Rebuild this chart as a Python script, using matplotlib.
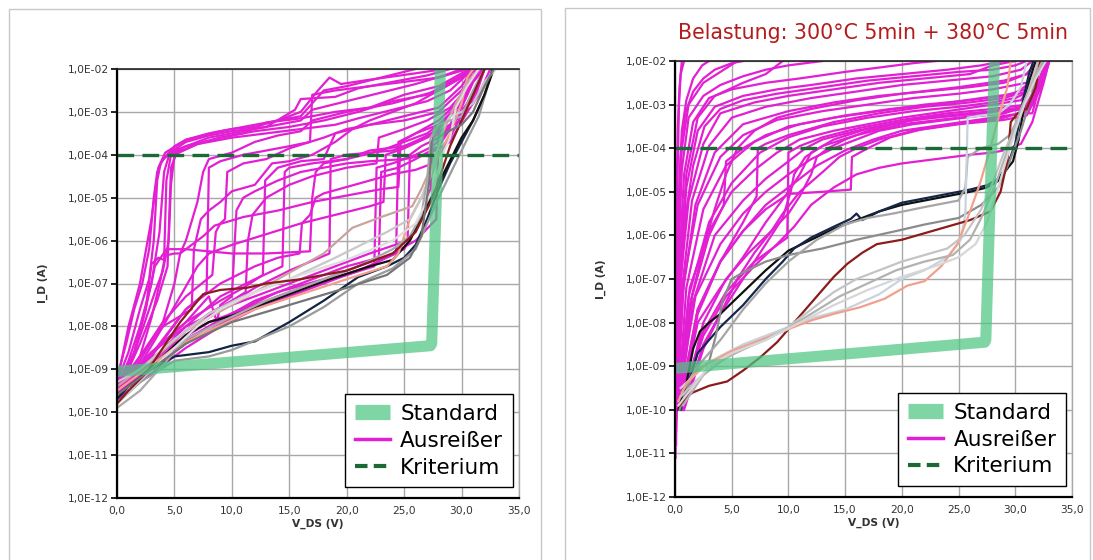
import numpy as np
import matplotlib
matplotlib.use("Agg")
import matplotlib.pyplot as plt
from matplotlib.ticker import FuncFormatter, FixedLocator
from matplotlib.lines import Line2D
from matplotlib.patches import Rectangle

# each curve: (V_DS in V, log10 of I_D in A)

left_outliers = [
    [(0, -9.3), (1, -8.6), (2, -7.6), (2.8, -6.9), (3.2, -6.0), (3.5, -4.6), (3.8, -4.2), (4.5, -3.95), (5, -3.8), (6, -3.65), (8, -3.5), (10, -3.4), (12, -3.35), (14, -3.2), (16, -3.0), (17.5, -2.5), (18.5, -2.2), (19.5, -2.35), (22, -2.25), (26, -2.1), (28.5, -2.0)],
    [(0, -9.4), (1, -8.8), (2, -8.0), (3, -7.0), (3.7, -5.8), (4.1, -4.4), (4.6, -3.95), (6, -3.7), (8, -3.55), (10, -3.45), (13, -3.35), (16, -3.2), (17, -2.95), (20, -2.75), (23, -2.55), (26, -2.35), (28.5, -2.15), (30, -2.0)],
    [(0, -9.5), (1.5, -8.6), (2.5, -7.6), (3, -6.55), (3.6, -6.4), (4.1, -6.45), (4.3, -4.6), (4.7, -4.0), (6, -3.8), (9, -3.6), (12, -3.45), (15, -3.35), (18, -3.2), (21, -3.0), (24, -2.75), (27, -2.6), (29, -2.3), (31, -2.0)],
    [(0, -9.6), (2, -8.4), (3.5, -7.4), (4.4, -6.6), (4.7, -4.3), (5.2, -3.95), (7, -3.75), (10, -3.6), (13, -3.5), (16, -3.4), (19, -3.3), (21, -3.15), (24, -2.95), (27, -2.75), (29, -2.5), (31, -2.0)],
    [(0, -9.3), (1, -8.0), (2, -7.0), (3, -5.5), (3.6, -4.3), (4.2, -3.95), (6, -3.65), (9, -3.45), (12, -3.3), (16, -3.1), (18, -2.5), (20, -2.4), (23, -2.2), (26, -2.0)],
    [(0, -9.5), (2, -8.7), (3, -7.8), (3.8, -6.9), (4.2, -6.35), (5, -6.3), (5.5, -6.3), (6, -6.0), (7, -5.1), (7.5, -4.4), (8, -4.1), (10, -3.95), (12, -3.7), (14, -3.55), (16, -3.45), (17, -3.2), (20, -3.0), (24, -2.8), (28, -2.5), (30, -2.2), (31.5, -2.0)],
    [(0, -9.6), (2, -9.0), (4, -8.3), (6, -7.6), (7.8, -7.2), (8, -4.3), (9, -4.15), (11, -4.0), (13, -3.9), (15, -3.8), (16.8, -3.7), (17, -2.6), (19, -2.5), (22, -2.4), (25, -2.3), (28, -2.2), (30.5, -2.0)],
    [(0, -9.4), (2, -8.7), (4, -7.9), (6, -7.3), (8.3, -6.8), (8.6, -5.8), (9, -5.6), (9.4, -5.5), (9.6, -4.4), (11, -4.2), (13, -4.1), (15, -3.85), (18, -3.6), (20, -3.4), (22, -3.3), (25, -3.2), (28, -3.0), (30, -2.5), (31.5, -2.0)],
    [(0, -9.5), (2, -8.9), (4, -8.4), (6, -7.9), (8, -7.3), (8.7, -7.9), (9, -7.5), (10, -7.3), (10.4, -5.3), (11, -5.0), (12, -4.85), (14, -4.6), (16, -4.4), (18, -4.3), (20, -4.2), (22, -4.15), (25, -4.1), (27, -4.0), (29, -3.7), (30.5, -3.0), (32, -2.0)],
    [(0, -9.7), (2, -9.1), (4, -8.6), (6, -8.1), (8, -7.7), (10, -7.4), (11.2, -7.2), (11.4, -6.0), (11.8, -5.4), (12.4, -5.2), (13, -5.0), (15, -4.7), (17, -4.5), (20, -4.3), (22.6, -4.2), (22.8, -3.6), (25, -3.4), (27, -3.2), (29, -2.9), (31, -2.3), (32, -2.0)],
    [(0, -9.4), (3, -8.6), (6, -7.9), (9, -7.4), (11, -7.1), (12.7, -6.8), (12.9, -4.6), (14, -4.3), (16, -4.15), (18, -4.1), (19, -3.5), (22, -3.3), (25, -3.1), (28, -2.9), (30, -2.4), (31, -2.0)],
    [(0, -9.6), (3, -8.8), (6, -8.0), (9, -7.3), (12, -6.9), (14.4, -6.6), (14.6, -4.4), (15, -4.3), (17, -4.2), (20, -4.1), (23, -3.9), (25, -3.7), (27, -3.5), (29, -3.1), (30.5, -2.5), (31.5, -2.0)],
    [(0, -9.5), (3, -8.7), (6, -7.6), (9, -7.0), (12, -6.6), (14, -6.4), (15.9, -6.3), (16.1, -5.6), (16.8, -5.4), (17.3, -5.0), (18, -4.9), (20, -4.75), (22, -4.6), (24, -4.45), (26, -4.35), (27.5, -4.2), (29, -3.6), (30.5, -2.8), (32, -2.0)],
    [(0, -9.6), (3, -8.9), (6, -8.2), (9, -7.6), (12, -7.1), (15, -6.7), (18.5, -6.3), (18.6, -4.1), (20, -4.0), (22, -3.95), (24, -3.9), (26, -3.7), (28, -3.4), (30, -2.8), (31.5, -2.0)],
    [(0, -9.5), (2, -8.8), (4, -7.9), (5, -7.0), (5.5, -6.3), (6.5, -6.1), (7.5, -5.9), (8.5, -5.65), (11, -5.45), (14, -5.3), (17, -5.1), (20, -4.95), (23, -4.8), (24.5, -4.75), (24.7, -3.7), (26, -3.5), (28, -3.2), (30, -2.7), (31, -2.0)],
    [(0, -9.6), (2, -8.9), (4, -8.0), (5.5, -7.3), (7, -6.6), (8, -6.3), (10, -6.1), (13, -5.85), (16, -5.6), (19, -5.4), (22, -5.2), (23.2, -5.1), (23.4, -4.0), (25, -3.85), (27, -3.6), (29, -3.3), (30.5, -2.6), (31.5, -2.0)],
    [(0, -9.3), (2, -8.9), (5, -8.4), (8, -7.9), (12, -7.5), (16, -7.1), (20, -6.8), (22.4, -6.6), (22.6, -4.3), (24, -4.2), (26, -4.0), (27.5, -3.8), (29, -3.4), (30.5, -2.8), (32, -2.0)],
    [(0, -9.7), (3, -9.1), (6, -8.5), (9, -8.0), (12, -7.6), (15, -7.3), (18, -7.0), (21, -6.7), (24.3, -6.3), (24.5, -3.7), (26, -3.5), (28, -3.3), (29.5, -2.9), (30.5, -2.3), (31.5, -2.0)],
    [(0, -9.5), (3, -8.6), (6, -8.0), (10, -7.5), (14, -7.1), (18, -6.7), (22, -6.3), (25.3, -6.0), (25.5, -4.0), (26.5, -3.8), (28, -3.6), (29.5, -3.2), (31, -2.6), (32, -2.0)],
    [(0, -9.6), (4, -8.7), (8, -8.0), (12, -7.4), (16, -7.0), (20, -6.6), (22.8, -6.4), (23, -4.4), (24.5, -4.3), (26, -4.1), (28, -3.8), (29, -3.4), (30, -2.9), (31, -2.3), (31.8, -2.0)],
    [(0, -9.4), (1.5, -8.6), (2.5, -7.6), (3.3, -6.6), (4.3, -6.2), (6, -6.2), (8, -6.25), (10, -6.3), (13, -6.3), (16.8, -6.25), (17, -5.0), (17.3, -4.4), (18, -4.2), (20, -4.1), (22, -3.9), (25, -3.8), (27.5, -3.5), (29, -3.1), (30.5, -2.4), (31.5, -2.0)],
    [(0, -9.5), (2, -8.7), (4, -8.0), (6.5, -7.6), (6.7, -6.2), (7.3, -5.5), (8, -5.3), (9, -5.1), (10, -4.85), (12, -4.7), (13.5, -4.2), (15, -4.15), (17, -4.0), (19, -3.7), (20.5, -3.4), (22, -3.2), (24, -3.0), (26, -2.8), (28, -2.5), (30, -2.2), (31, -2.0)],
    [(0, -9.4), (3, -8.9), (6, -8.3), (10, -7.7), (14, -7.2), (18, -6.9), (22, -6.5), (25, -6.2), (26.5, -5.5), (27.3, -4.8), (27.5, -3.6), (28.5, -3.4), (30, -3.2), (31.5, -2.6), (32.5, -2.0)],
    [(0, -9.5), (3, -9.0), (6, -8.4), (10, -7.8), (14, -7.3), (18, -6.95), (22, -6.6), (26, -6.0), (27.8, -5.5), (28, -3.5), (29, -3.3), (31, -2.8), (32, -2.0)],
    [(0, -9.2), (0.8, -8.4), (1.5, -7.6), (2.2, -7.0), (2.8, -6.2), (3.2, -5.0), (3.5, -4.4), (4, -4.1), (5, -3.9), (8, -3.6), (11, -3.45), (13, -3.35), (15.5, -2.95), (16, -2.7), (19, -2.65), (21, -2.45), (24, -2.3), (27, -2.15), (29, -2.0)],
    [(0, -9.6), (1, -9.0), (2.3, -8.0), (3.3, -7.2), (4, -6.7), (4.5, -6.0), (4.7, -4.7), (5, -4.0), (7, -3.75), (9, -3.6), (11, -3.5), (13, -3.25), (16, -3.15), (19, -3.0), (22, -2.9), (25, -2.6), (28, -2.4), (30, -2.1), (30.8, -2.0)],
]

left_regular = [
    [(0, -9.7), (1, -9.4), (3, -9.0), (5, -8.7), (8, -8.6), (10, -8.45), (12, -8.35), (15, -7.9), (18, -7.4), (21, -6.85), (23.5, -6.6), (25, -6.4), (26, -6.1), (27, -5.5), (28, -4.8), (29, -4.2), (30, -3.7), (31, -3.2), (32, -2.6), (32.7, -2.0)],
    [(0, -9.8), (2, -9.3), (5, -8.8), (8, -8.7), (10, -8.55), (15, -8.0), (18, -7.55), (21, -7.0), (24, -6.65), (26, -6.2), (28, -5.0), (30, -3.9), (31.5, -3.1), (32.5, -2.2), (32.8, -2.0)],
    [(0, -9.6), (2, -9.2), (4, -8.7), (6, -8.2), (8, -7.9), (10, -7.75), (14, -7.35), (18, -6.95), (22, -6.6), (24, -6.45), (25.5, -6.0), (27, -5.2), (28.5, -4.4), (30, -3.6), (31, -3.2), (32, -2.6), (32.8, -2.0)],
    [(0, -9.5), (2, -9.1), (5, -8.5), (8, -8.1), (12, -7.6), (16, -7.25), (20, -6.9), (23.5, -6.6), (24.5, -6.3), (25.5, -5.5), (26.5, -5.0), (27.5, -4.4), (28, -4.0), (29, -3.5), (30, -2.8), (30.5, -2.2), (31, -2.0)],
    [(0, -9.4), (3, -8.8), (6, -8.1), (10, -7.5), (14, -6.9), (18, -6.3), (20.5, -5.7), (23, -5.45), (25.7, -5.2), (26.5, -4.8), (27.5, -4.2), (28.5, -3.4), (29.5, -2.8), (30.5, -2.3), (31.5, -2.0)],
    [(0, -9.3), (2, -9.0), (5, -8.3), (8, -7.7), (11, -7.3), (15, -6.9), (19, -6.4), (23.5, -5.8), (25.5, -5.5), (26.5, -5.0), (27.5, -4.3), (28.5, -3.3), (29, -3.1), (30, -3.0), (31, -2.8), (32, -2.3), (33, -2.0)],
    [(0, -9.9), (2, -9.5), (4, -8.9), (6, -8.3), (9, -7.9), (13, -7.4), (17, -7.0), (21, -6.6), (24, -6.2), (25.5, -5.9), (26.5, -5.4), (27, -4.6), (27.3, -3.6), (28, -3.3), (30, -3.1), (31, -2.5), (32, -2.0)],
    [(0, -9.8), (1.5, -9.4), (3, -9.0), (5, -8.5), (7, -8.0), (9, -7.6), (12, -7.2), (16, -6.8), (20, -6.45), (24, -6.0), (26, -5.6), (27.5, -4.8), (28.5, -3.9), (29, -3.6), (29.5, -2.9), (30.5, -2.4), (31.5, -2.0)],
    [(0, -9.8), (1, -9.5), (2.5, -9.1), (4, -8.5), (5.5, -7.9), (7.5, -7.25), (9, -7.15), (11.3, -7.1), (13, -7.0), (16, -6.9), (20, -6.7), (24, -6.3), (26, -5.8), (27.5, -5.0), (29, -3.8), (30.5, -2.9), (32, -2.0)],
    [(0, -9.6), (3, -9.0), (6, -8.4), (10, -7.9), (15, -7.5), (20, -7.1), (23.5, -6.8), (25.5, -6.4), (26.5, -5.9), (27.2, -4.6), (27.4, -3.7), (28.5, -3.5), (30, -3.3), (31, -3.0), (32, -2.4), (32.8, -2.0)],
]
left_regular_colors = ["#122444", "#9a9a9a", "#111111", "#f0a08c", "#c9a3a0",
                       "#c8c8c8", "#a9a9a9", "#dddddd", "#8a1c1c", "#767676"]

right_outliers = [
    [(0.05, -9.8), (0.1, -7.0), (0.15, -5.0), (0.25, -3.5), (0.4, -2.6), (0.6, -2.0)],
    [(0.1, -10.2), (0.2, -7.0), (0.35, -5.0), (0.6, -3.6), (1.0, -2.9), (1.6, -2.4), (2.4, -2.1), (3, -2.0)],
    [(0.1, -10.0), (0.3, -6.0), (0.6, -4.0), (1.2, -3.0), (2.5, -2.5), (4, -2.25), (5.5, -2.0)],
    [(0.2, -9.9), (0.5, -6.5), (1, -4.6), (2, -3.3), (3.5, -2.8), (6, -2.5), (8, -2.3), (9.5, -2.0)],
    [(0.1, -9.6), (0.3, -6.5), (0.6, -4.5), (1.2, -3.3), (2.5, -2.8), (4, -2.55), (6, -2.35), (8, -2.2), (10, -2.1), (13, -2.0)],
    [(0.1, -9.9), (0.35, -6.8), (0.8, -4.6), (1.6, -3.4), (3, -2.85), (5, -2.65), (8, -2.5), (11, -2.4), (15, -2.25), (18, -2.15), (21, -2.05), (23, -2.0)],
    [(0.15, -10.0), (0.4, -7.2), (1, -4.9), (2, -3.6), (3.5, -3.05), (6, -2.8), (9, -2.65), (12, -2.55), (16, -2.4), (20, -2.3), (24, -2.2), (27, -2.1), (29, -2.0)],
    [(0.2, -9.7), (0.5, -7.0), (1.2, -5.2), (2.5, -3.9), (4, -3.2), (7, -2.95), (10, -2.8), (14, -2.65), (18, -2.5), (22, -2.4), (26, -2.3), (28, -2.1), (30, -2.0)],
    [(0.1, -10.5), (0.5, -7.5), (1.5, -5.2), (3, -3.95), (5, -3.3), (8, -3.05), (12, -2.85), (16, -2.7), (20, -2.55), (24, -2.45), (28, -2.35), (30.5, -2.2), (31.5, -2.0)],
    [(0.2, -10.0), (0.7, -7.3), (1.8, -5.3), (3.5, -4.1), (6, -3.45), (10, -3.15), (14, -2.95), (18, -2.8), (22, -2.7), (26, -2.6), (29, -2.5), (31, -2.3), (32, -2.0)],
    [(0.2, -9.5), (0.8, -7.0), (2, -5.3), (4, -4.2), (6, -3.7), (9, -3.35), (13, -3.15), (17, -3.0), (21, -2.85), (25, -2.75), (28, -2.65), (31, -2.5), (32.3, -2.0)],
    [(0.3, -9.8), (1, -7.2), (2.5, -5.4), (4.5, -4.4), (7, -3.85), (10, -3.5), (14, -3.3), (18, -3.15), (22, -3.0), (26, -2.9), (29, -2.8), (31.5, -2.6), (32.5, -2.0)],
    [(0.3, -10.0), (1.2, -7.4), (3, -5.7), (5, -4.8), (7.5, -4.1), (10, -3.75), (13, -3.5), (17, -3.3), (21, -3.15), (25, -3.05), (28, -2.95), (30, -2.85), (32, -2.6), (32.8, -2.0)],
    [(0.3, -9.7), (1.3, -7.2), (3, -5.9), (5, -5.0), (7, -4.5), (9, -4.1), (11, -3.8), (14, -3.6), (17, -3.45), (20, -3.3), (24, -3.15), (28, -3.0), (30.5, -2.9), (32, -2.3), (32.5, -2.0)],
    [(0.4, -10.0), (1.5, -7.6), (3.5, -6.0), (6, -5.2), (8, -4.7), (10, -4.3), (11.5, -4.0), (13, -3.8), (16, -3.6), (19, -3.45), (22, -3.3), (26, -3.2), (29, -3.15), (31, -3.1), (32.3, -2.5), (33, -2.0)],
    [(0.4, -9.6), (1.8, -7.4), (4, -6.2), (6, -5.5), (8, -5.0), (10, -4.6), (12, -4.25), (14, -4.0), (16, -3.8), (18, -3.6), (21, -3.45), (24, -3.35), (27, -3.25), (29, -3.2), (31, -3.0), (32, -2.5), (32.7, -2.0)],
    [(0.5, -10.0), (2, -7.8), (4, -6.6), (6, -5.9), (8, -5.3), (10, -4.9), (12.5, -4.4), (15, -4.05), (17.5, -3.8), (20, -3.6), (24, -3.45), (28, -3.3), (30.5, -3.2), (31.5, -3.2), (32.3, -2.4), (32.8, -2.0)],
    [(0.4, -9.9), (2, -7.7), (4, -6.6), (6, -5.7), (7.2, -5.1), (7.3, -4.0), (8, -3.9), (10, -3.7), (14, -3.4), (18, -3.2), (22, -3.05), (26, -2.95), (29, -2.85), (31, -2.7), (32, -2.2), (32.5, -2.0)],
    [(0.3, -9.8), (1.5, -7.4), (3, -6.0), (4.3, -5.3), (4.5, -4.3), (6, -4.0), (8, -3.7), (11, -3.45), (15, -3.25), (19, -3.1), (23, -3.0), (27, -2.85), (30, -2.75), (31.8, -2.4), (32.3, -2.0)],
    [(0.5, -9.7), (2, -7.7), (4, -6.6), (6, -5.9), (8, -5.4), (10, -5.05), (13, -5.0), (15.5, -4.95), (15.6, -4.2), (17, -4.0), (19, -3.75), (22, -3.55), (26, -3.4), (29, -3.3), (31, -3.15), (32.4, -2.5), (33, -2.0)],
    [(0.6, -10.0), (2.5, -8.0), (4.5, -7.0), (6.5, -6.4), (8.5, -5.9), (10, -5.5), (11, -5.1), (12, -4.6), (12.5, -4.2), (13.5, -4.0), (15, -3.8), (17, -3.6), (20, -3.4), (24, -3.25), (28, -3.15), (31, -3.05), (32.2, -2.4), (32.7, -2.0)],
    [(0.6, -9.8), (2.5, -8.3), (4.5, -7.4), (7, -6.7), (9, -6.2), (10.5, -5.8), (12, -5.3), (14, -4.9), (16, -4.6), (18, -4.45), (20, -4.35), (23, -4.25), (26, -4.15), (28, -4.1), (29, -4.05), (30.5, -3.9), (31.5, -3.4), (32.5, -2.5), (33, -2.0)],
    [(0.5, -9.9), (2, -8.0), (4, -7.2), (6, -6.5), (8, -5.7), (10, -5.0), (11, -4.6), (12, -4.1), (14, -3.8), (17, -3.55), (21, -3.35), (25, -3.25), (29, -3.15), (31.5, -3.0), (32.5, -2.3), (33, -2.0)],
    [(0.7, -10.0), (2.5, -8.5), (4, -7.8), (6, -7.0), (8, -6.2), (9.5, -5.6), (10.2, -5.0), (10.5, -4.6), (11.5, -4.2), (13, -3.95), (16, -3.7), (20, -3.45), (25, -3.3), (29, -3.2), (31.5, -3.0), (32.5, -2.3), (33, -2.0)],
    [(0.6, -9.7), (2.5, -8.2), (4.5, -7.3), (7, -6.6), (9.9, -6.05), (10, -4.1), (11, -3.95), (13, -3.75), (16, -3.55), (20, -3.35), (24, -3.2), (28, -3.1), (31, -3.0), (32, -2.6), (32.8, -2.0)],
    [(0.3, -9.7), (1.3, -7.6), (2.5, -6.3), (3.5, -5.4), (4.5, -4.6), (5.5, -4.0), (7, -3.6), (9, -3.3), (12, -3.1), (16, -2.9), (20, -2.75), (25, -2.6), (29, -2.45), (31, -2.3), (32, -2.0)],
    [(0.8, -10.0), (2.5, -8.6), (4, -7.8), (5.5, -7.0), (7, -6.4), (8.5, -5.9), (9.5, -5.5), (11, -5.0), (13, -4.55), (14.5, -4.2), (16, -4.0), (18, -3.8), (21, -3.6), (25, -3.45), (29, -3.35), (31, -3.25), (32.3, -2.6), (32.8, -2.0)],
    [(0.05, -11.1), (0.1, -8.0), (0.2, -5.0), (0.35, -3.0), (0.5, -2.3), (0.8, -2.0)],
    [(0.1, -10.8), (0.15, -8.5), (0.3, -6.0), (0.5, -4.2), (0.9, -3.2), (1.6, -2.7), (2.5, -2.4), (3.5, -2.2), (5, -2.05), (6, -2.0)],
    [(0.15, -9.8), (0.4, -7.5), (0.9, -5.6), (1.6, -4.4), (2.6, -3.5), (4, -3.1), (6, -2.9), (9, -2.75), (13, -2.6), (17, -2.45), (21, -2.35), (25, -2.25), (28, -2.2), (30, -2.1), (31, -2.0)],
]

right_regular = [
    [(0.3, -10.0), (1, -9.4), (1.6, -8.6), (2.2, -8.2), (3, -8.0), (4, -7.8), (6, -7.3), (8, -6.8), (10, -6.35), (12, -6.1), (14, -5.85), (16, -5.65), (18, -5.45), (20, -5.3), (22, -5.2), (24, -5.1), (26, -5.0), (27.5, -4.9), (28.5, -4.75), (29.2, -4.5), (29.8, -4.3), (30.3, -3.8), (30.8, -3.0), (31.3, -2.4), (31.8, -2.0)],
    [(0.5, -10.0), (1.3, -9.3), (2, -8.7), (3, -8.4), (4, -8.1), (6, -7.6), (8, -7.0), (9.5, -6.6), (10.5, -6.3), (12, -6.05), (14, -5.8), (15.5, -5.62), (16, -5.5), (16.5, -5.65), (18, -5.45), (20, -5.25), (22, -5.15), (24, -5.05), (26, -4.95), (27.5, -4.85), (28.5, -4.7), (29.3, -4.4), (30, -3.9), (30.6, -3.0), (31.2, -2.3), (31.6, -2.0)],
    [(0.4, -10.0), (1.5, -9.2), (3, -8.9), (3.6, -8.3), (4.2, -7.5), (5, -7.0), (6, -6.85), (8, -6.6), (10, -6.45), (13, -6.3), (16, -6.1), (19.5, -5.9), (22, -5.75), (25, -5.6), (27, -5.3), (28.5, -4.9), (29.5, -4.3), (30.5, -3.6), (31.2, -3.0), (32, -2.3), (32.5, -2.0)],
    [(0.6, -9.6), (2, -9.0), (4, -8.4), (6, -7.7), (8, -7.1), (10, -6.6), (12.5, -6.1), (15, -5.75), (17, -5.6), (19.2, -5.5), (22, -5.35), (25, -5.2), (25.6, -4.9), (25.8, -4.2), (27, -4.0), (28.5, -3.9), (29.5, -3.7), (30.5, -3.2), (31.5, -2.5), (32.2, -2.0)],
    [(0.5, -9.5), (3, -8.9), (6, -8.5), (9, -8.2), (12, -7.9), (15, -7.7), (18, -7.35), (20, -7.0), (22, -6.8), (24, -6.5), (25.2, -6.1), (25.6, -5.5), (25.8, -3.3), (27, -3.25), (28.5, -3.2), (29.5, -3.0), (30.5, -2.6), (31, -2.0)],
    [(0.4, -9.9), (1, -9.7), (1.6, -9.6), (3, -9.45), (4.6, -9.35), (6, -9.1), (7.5, -8.8), (9, -8.45), (10.5, -8.0), (12.5, -7.4), (14, -6.95), (15.2, -6.65), (16.5, -6.4), (17.8, -6.2), (20, -6.1), (22, -5.95), (24, -5.8), (26, -5.65), (27.8, -5.45), (28.7, -5.0), (29.3, -4.3), (29.6, -3.4), (30.2, -3.2), (31, -3.1), (31.8, -2.6), (32.2, -2.0)],
    [(0.3, -9.8), (1, -9.4), (2.5, -9.0), (5, -8.65), (7.5, -8.4), (10, -8.15), (12, -7.95), (14, -7.8), (16.3, -7.65), (18.5, -7.45), (20.5, -7.15), (22, -7.05), (23.5, -6.7), (24.9, -6.2), (25.8, -5.6), (26.9, -4.8), (27.8, -4.0), (28.5, -3.3), (29.3, -2.6), (29.6, -2.0)],
    [(0.5, -9.7), (2, -9.3), (4, -8.9), (6, -8.6), (8, -8.4), (10, -8.1), (12, -7.7), (14, -7.3), (16, -7.0), (18, -6.8), (20, -6.6), (22, -6.45), (24, -6.3), (25.5, -6.0), (27, -5.4), (28, -4.8), (29, -4.1), (30, -3.5), (31, -2.8), (32, -2.0)],
    [(0.7, -9.9), (2.5, -9.2), (4.5, -8.8), (7, -8.5), (9.5, -8.2), (12, -7.8), (14.5, -7.4), (17, -7.1), (19.5, -6.8), (22, -6.6), (24.5, -6.45), (26, -6.1), (27, -5.6), (28.3, -4.8), (29.5, -3.9), (30.5, -3.1), (31.5, -2.5), (32.4, -2.0)],
    [(0.3, -9.9), (1.5, -9.5), (3, -9.0), (5, -8.7), (8, -8.4), (11, -8.0), (14, -7.6), (17, -7.25), (20, -6.95), (23, -6.7), (25, -6.5), (26.5, -6.2), (27.5, -5.7), (28.5, -4.9), (29.5, -4.0), (30.8, -3.0), (31.8, -2.4), (32.7, -2.0)],
]
right_regular_colors = ["#111111", "#14264a", "#8c8c8c", "#a6a6a6", "#c9d3dc",
                        "#8a1c1c", "#f0a08c", "#c4c4c4", "#b2b2b2", "#d6d6d6"]

standard_v = [0.0, 27.3, 27.4, 28.15]
standard_e = [-9.05, -8.45, -8.4, -2.05]
criterion = 1e-4

decades = list(range(-12, -1))
volts = [0, 5, 10, 15, 20, 25, 30, 35]

PINK = "#e21fd2"
GREEN = "#4fc683"
DARKGREEN = "#1b6a36"


def curve(points):
    v = [p[0] for p in points]
    i = [10.0 ** p[1] for p in points]
    return v, i


def draw_panel(ax, outliers, regular, colors):
    for pts in outliers:
        ax.plot(*curve(pts), color=PINK, lw=1.6, zorder=2)
    for pts, c in zip(regular, colors):
        ax.plot(*curve(pts), color=c, lw=1.6, zorder=3)
    ax.plot(standard_v, [10.0 ** e for e in standard_e], color=GREEN, lw=8,
            alpha=0.72, solid_capstyle="round", solid_joinstyle="round", zorder=4)
    ax.axhline(criterion, color=DARKGREEN, lw=2.4, dashes=(5, 2.5), zorder=5)

    ax.set_yscale("log")
    ax.set_xlim(0, 35)
    ax.set_ylim(1e-12, 1e-2)
    ax.yaxis.set_major_locator(FixedLocator([10.0 ** d for d in decades]))
    ax.yaxis.set_minor_locator(FixedLocator([]))
    ax.yaxis.set_major_formatter(FuncFormatter(
        lambda y, _: "1,0E-%02d" % round(-np.log10(y))))
    ax.set_xticks(volts)
    ax.xaxis.set_major_formatter(FuncFormatter(
        lambda x, _: ("%.1f" % x).replace(".", ",")))
    ax.grid(True, color="#a8a8a8", lw=1.0)
    ax.set_axisbelow(True)
    ax.spines["right"].set_color("#a8a8a8")
    ax.spines["right"].set_linewidth(1.0)
    ax.spines["top"].set_color("#222222")
    ax.spines["top"].set_linewidth(1.2)
    for s in ["left", "bottom"]:
        ax.spines[s].set_color("black")
        ax.spines[s].set_linewidth(1.6)
    for s in ax.spines.values():
        s.set_zorder(6)
    ax.tick_params(axis="y", direction="out", length=4, width=1.2,
                   labelsize=7.7, labelcolor="#333333", pad=2)
    ax.tick_params(axis="x", direction="out", length=0,
                   labelsize=7.7, labelcolor="#333333", pad=6)
    ax.set_xlabel("V_DS (V)", fontsize=7.7, fontweight="bold", color="#333333", labelpad=2)
    ax.set_ylabel("I_D (A)", fontsize=7.7, fontweight="bold", color="#333333", labelpad=14)

    handles = [
        Line2D([], [], color=GREEN, lw=11, alpha=0.72, solid_capstyle="butt"),
        Line2D([], [], color=PINK, lw=2.5),
        Line2D([], [], color=DARKGREEN, lw=3, dashes=(3, 1.5)),
    ]
    leg = ax.legend(handles, ["Standard", "Ausreißer", "Kriterium"],
                    loc="lower right", bbox_to_anchor=(0.985, 0.025),
                    borderaxespad=0, fontsize=15.5, fancybox=False,
                    framealpha=1, edgecolor="black", handlelength=1.6,
                    handletextpad=0.5, borderpad=0.45, labelspacing=0.32)
    leg.get_frame().set_linewidth(1.0)
    leg.set_zorder(10)


fig = plt.figure(figsize=(10.93, 5.6), dpi=100)

# panel frames
fig.patches.append(Rectangle((9 / 1093, -0.02), 532 / 1093, 1.02 - 9 / 560,
                             transform=fig.transFigure, fill=False,
                             edgecolor="#c8c8c8", lw=1.0))
fig.patches.append(Rectangle((565 / 1093, -0.02), 525 / 1093, 1.02 - 8 / 560,
                             transform=fig.transFigure, fill=False,
                             edgecolor="#c8c8c8", lw=1.0))

ax1 = fig.add_axes([117 / 1093, 1 - 498 / 560, 402 / 1093, 429 / 560])
ax2 = fig.add_axes([675 / 1093, 1 - 497 / 560, 397 / 1093, 436 / 560])

draw_panel(ax1, left_outliers, left_regular, left_regular_colors)
draw_panel(ax2, right_outliers, right_regular, right_regular_colors)

fig.text(873 / 1093, 1 - 33 / 560, "Belastung: 300°C 5min + 380°C 5min",
         ha="center", va="center", fontsize=14.8, color="#b41c1c")

fig.savefig("out.png", dpi=100)
